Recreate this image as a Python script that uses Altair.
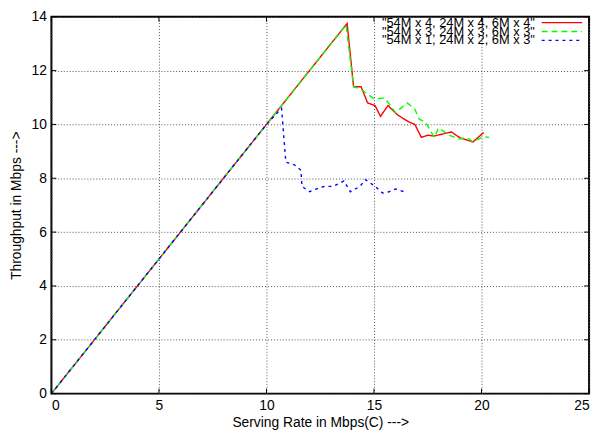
import altair as alt
import pandas as pd

# ---- data ----
series_names = ['"54M x 4, 24M x 4, 6M x 4"',
                '"54M x 3, 24M x 3, 6M x 3"',
                '"54M x 1, 24M x 2, 6M x 3"']
colors = ["#ff0000", "#00ff00", "#0000ff"]
dashes = [[1, 0], [6, 4], [3, 4]]

red_x = [0, 2, 4, 6, 8, 10, 12, 13.75, 14.05, 14.4, 14.7, 15.05, 15.3, 15.65,
         16.1, 16.6, 16.9, 17.2, 17.5, 17.8, 18.6, 19.0, 19.6, 20.1]
red_y = [0, 2, 4, 6, 8, 10, 12, 13.75, 11.4, 11.4, 10.8, 10.7, 10.3, 10.7,
         10.35, 10.1, 10.0, 9.52, 9.6, 9.57, 9.72, 9.5, 9.35, 9.7]

green_x = [0, 2, 4, 6, 8, 10, 12, 13.7, 14.05, 14.4, 15.0, 15.5, 16.0, 16.55,
           16.9, 17.1, 17.4, 17.8, 18.0, 18.55, 18.96, 19.35, 19.58, 20.1, 20.35]
green_y = [0, 2, 4, 6, 8, 10, 12, 13.7, 11.4, 11.3, 10.95, 10.98, 10.44, 10.8,
           10.56, 10.2, 10.08, 9.52, 9.87, 9.58, 9.46, 9.51, 9.36, 9.54, 9.52]

blue_x = [0, 2, 4, 6, 8, 10, 10.7, 10.9, 11.3, 11.6, 11.65, 12.0, 12.3, 12.7,
          13.1, 13.6, 13.9, 14.35, 14.6, 15.05, 15.4, 15.7, 16.0, 16.4]
blue_y = [0, 2, 4, 6, 8, 10, 10.6, 8.6, 8.5, 8.3, 7.7, 7.5, 7.6, 7.7,
          7.7, 7.9, 7.5, 7.7, 7.95, 7.7, 7.45, 7.5, 7.6, 7.5]

x_ticks = [0, 5, 10, 15, 20, 25]
y_ticks = [0, 2, 4, 6, 8, 10, 12, 14]

# ---- layout ----
W, H = 545, 382
FONT = "Liberation Sans"

rows = []
for name, xs, ys in zip(series_names, [red_x, green_x, blue_x], [red_y, green_y, blue_y]):
    for i, (a, b) in enumerate(zip(xs, ys)):
        rows.append({"series": name, "x": a, "y": b, "order": i})
df = pd.DataFrame(rows)

xscale = alt.Scale(domain=[0, 25], nice=False, zero=False)
yscale = alt.Scale(domain=[0, 14], nice=False, zero=False)

lines = alt.Chart(df).mark_line(strokeWidth=1.4, clip=True).encode(
    x=alt.X("x:Q", scale=xscale,
            axis=alt.Axis(values=x_ticks, title="Serving Rate in Mbps(C) --->",
                          grid=True, ticks=False, domain=False, labelPadding=5,
                          titlePadding=3)),
    y=alt.Y("y:Q", scale=yscale,
            axis=alt.Axis(values=y_ticks, title="Throughput in Mbps --->",
                          grid=True, ticks=False, domain=False, labelPadding=5,
                          titlePadding=8)),
    color=alt.Color("series:N", scale=alt.Scale(domain=series_names, range=colors), legend=None),
    strokeDash=alt.StrokeDash("series:N", scale=alt.Scale(domain=series_names, range=dashes), legend=None),
    order="order:Q",
)

xt = pd.DataFrame({"t": x_ticks})
yt = pd.DataFrame({"t": y_ticks})
tick_layers = [
    alt.Chart(xt).mark_rule(color="black", strokeWidth=1).encode(
        x=alt.X("t:Q", scale=xscale), y=alt.value(H), y2=alt.value(H - 5)),
    alt.Chart(xt).mark_rule(color="black", strokeWidth=1).encode(
        x=alt.X("t:Q", scale=xscale), y=alt.value(0), y2=alt.value(5)),
    alt.Chart(yt).mark_rule(color="black", strokeWidth=1).encode(
        y=alt.Y("t:Q", scale=yscale), x=alt.value(0), x2=alt.value(5)),
    alt.Chart(yt).mark_rule(color="black", strokeWidth=1).encode(
        y=alt.Y("t:Q", scale=yscale), x=alt.value(W), x2=alt.value(W - 5)),
]

leg_layers = []
row_y = [6, 15, 24]
for name, c, d, ry in zip(series_names, colors, dashes, row_y):
    ld = pd.DataFrame({"label": [name]})
    leg_layers.append(
        alt.Chart(ld).mark_text(align="right", baseline="middle", font=FONT,
                                fontSize=13, color="black").encode(
            text="label:N", x=alt.value(490), y=alt.value(ry)))
    leg_layers.append(
        alt.Chart(ld).mark_rule(color=c, strokeDash=d, strokeWidth=1.4).encode(
            x=alt.value(497), x2=alt.value(538), y=alt.value(ry)))

chart = alt.layer(lines, *tick_layers, *leg_layers).properties(
    width=W, height=H,
    autosize=alt.AutoSizeParams(type="none"),
    padding={"left": 44, "top": 6, "right": 6, "bottom": 34},
).configure_view(
    stroke="black", strokeWidth=2
).configure_axis(
    labelFont=FONT, titleFont=FONT, labelFontSize=14, titleFontSize=14,
    labelColor="black", titleColor="black", titleFontWeight="normal",
    gridColor="#555555", gridDash=[1, 2], gridWidth=1, gridOpacity=1,
)

chart.save("out.html", embed_options={"renderer": "svg", "actions": False})
